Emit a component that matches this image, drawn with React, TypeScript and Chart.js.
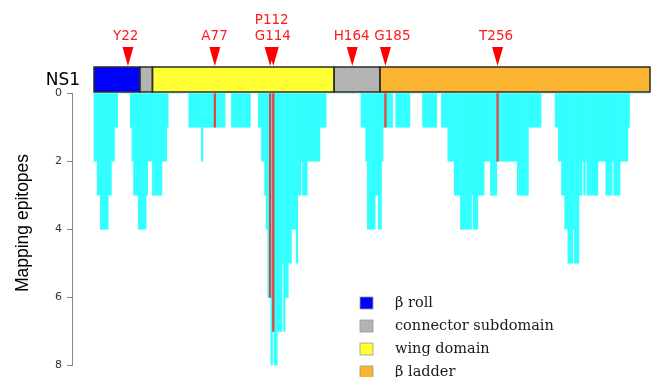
import React, { useEffect, useRef } from 'react';
import { Chart, registerables } from 'chart.js';

Chart.register(...registerables);

// Number of epitopes mapped on each NS1 residue (residues 1..352)
const epitopeDepth: number[] = [
  2, 2, 3, 3, 4, 4, 4, 4, 4, 3,
  3, 2, 2, 1, 1, 0, 0, 0, 0, 0,
  0, 0, 0, 1, 2, 3, 3, 3, 4, 4,
  4, 4, 4, 3, 2, 2, 2, 3, 3, 3,
  3, 3, 3, 2, 2, 2, 1, 0, 0, 0,
  0, 0, 0, 0, 0, 0, 0, 0, 0, 0,
  1, 1, 1, 1, 1, 1, 1, 1, 2, 1,
  1, 1, 1, 1, 1, 1, 1, 1, 1, 1,
  1, 1, 1, 0, 0, 0, 0, 1, 1, 1,
  1, 1, 1, 1, 1, 1, 1, 1, 1, 0,
  0, 0, 0, 0, 1, 1, 2, 2, 3, 4,
  6, 6, 8, 7, 8, 8, 7, 7, 7, 5,
  7, 6, 6, 5, 5, 4, 4, 4, 5, 3,
  3, 2, 3, 3, 3, 2, 2, 2, 2, 2,
  2, 2, 2, 1, 1, 1, 1, 0, 0, 0,
  0, 0, 0, 0, 0, 0, 0, 0, 0, 0,
  0, 0, 0, 0, 0, 0, 0, 0, 0, 1,
  1, 1, 2, 4, 4, 4, 4, 4, 3, 3,
  4, 4, 2, 1, 1, 1, 1, 1, 1, 0,
  0, 1, 1, 1, 1, 1, 1, 1, 1, 1,
  0, 0, 0, 0, 0, 0, 0, 0, 1, 1,
  1, 1, 1, 1, 1, 1, 1, 0, 0, 0,
  1, 1, 1, 1, 2, 2, 2, 2, 3, 3,
  3, 3, 4, 4, 4, 4, 4, 4, 4, 3,
  4, 4, 4, 3, 3, 3, 3, 2, 2, 2,
  2, 3, 3, 3, 3, 2, 2, 2, 2, 2,
  2, 2, 2, 2, 2, 2, 2, 2, 3, 3,
  3, 3, 3, 3, 3, 1, 1, 1, 1, 1,
  1, 1, 1, 0, 0, 0, 0, 0, 0, 0,
  0, 0, 1, 1, 2, 2, 3, 3, 4, 4,
  5, 5, 5, 4, 5, 5, 5, 3, 3, 2,
  3, 2, 3, 3, 3, 3, 3, 3, 3, 2,
  2, 2, 2, 2, 3, 3, 3, 3, 2, 3,
  3, 3, 3, 2, 2, 2, 2, 2, 1, 0,
  0, 0, 0, 0, 0, 0, 0, 0, 0, 0,
  0, 0,
];

// Highlighted residues
const markerLabels = ['Y22', 'A77', 'P112', 'G114', 'H164', 'G185', 'T256'];
const markerResidues = [22, 77, 112, 114, 164, 185, 256];

// NS1 domains
const domainNames = ['β roll', 'connector subdomain', 'wing domain', 'connector subdomain', 'β ladder'];
const domainStarts = [1, 30, 38, 153, 182];
const domainEnds = [29, 37, 152, 181, 352];

// Legend entries
const legendLabels = ['β roll', 'connector subdomain', 'wing domain', 'β ladder'];

const yTicks = [0, 2, 4, 6, 8];

// ---- styles (not data) ----
const COLOR_BAR = '#33ffff';
const COLOR_MARK_LINE = '#e8423c';
const COLOR_RED = '#ff0000';
const domainColors = ['#0000ff', '#b3b3b3', '#ffff33', '#b3b3b3', '#fbb42f'];
const legendColors = ['#0000ff', '#b3b3b3', '#ffff33', '#fbb42f'];
const labelRow = [0, 0, 1, 0, 0, 0, 0];
const labelNudge = [-2.3, -0.3, 1.6, -0.5, -0.6, 7, -1.5];

const residues = epitopeDepth.map((_, i) => i + 1);

const overlayPlugin = {
  id: 'ns1Overlay',
  afterDraw(chart: any) {
    const { ctx, chartArea } = chart;
    const x = chart.scales.x;
    const top = chartArea.top;
    ctx.save();

    // domain bar
    const barTop = top - 26;
    const barH = 25;
    domainStarts.forEach((s, i) => {
      const x0 = x.getPixelForValue(s - 0.5);
      const x1 = x.getPixelForValue(domainEnds[i] + 0.5);
      ctx.fillStyle = domainColors[i];
      ctx.fillRect(x0, barTop, x1 - x0, barH);
    });
    ctx.strokeStyle = '#2b2b2b';
    ctx.lineWidth = 1.5;
    domainStarts.forEach((s, i) => {
      const x0 = x.getPixelForValue(s - 0.5);
      const x1 = x.getPixelForValue(domainEnds[i] + 0.5);
      ctx.strokeRect(x0, barTop, x1 - x0, barH);
    });

    // NS1 label
    ctx.fillStyle = '#000';
    ctx.font = '17px "DejaVu Sans"';
    ctx.textAlign = 'right';
    ctx.textBaseline = 'middle';
    ctx.fillText('NS1', 80, barTop + barH / 2 + 1);

    // triangles
    ctx.fillStyle = COLOR_RED;
    markerResidues.forEach((r) => {
      const px = x.getPixelForValue(r);
      ctx.beginPath();
      ctx.moveTo(px - 5.5, top - 46);
      ctx.lineTo(px + 5.5, top - 46);
      ctx.lineTo(px, top - 27);
      ctx.closePath();
      ctx.fill();
    });

    // marker labels
    ctx.font = '13.5px "DejaVu Sans"';
    ctx.textAlign = 'center';
    ctx.textBaseline = 'alphabetic';
    ctx.fillStyle = '#ff1a1a';
    markerLabels.forEach((lab, i) => {
      const px = x.getPixelForValue(markerResidues[i]) + labelNudge[i];
      const py = labelRow[i] === 0 ? top - 53 : top - 69.5;
      ctx.fillText(lab, px, py);
    });

    // legend
    ctx.font = '14.5px "DejaVu Serif"';
    ctx.textAlign = 'left';
    ctx.textBaseline = 'middle';
    legendLabels.forEach((lab, i) => {
      const ly = 297 + i * 23;
      ctx.fillStyle = legendColors[i];
      ctx.fillRect(360, ly, 13, 12);
      ctx.strokeStyle = '#9a9a9a';
      ctx.lineWidth = 0.8;
      ctx.strokeRect(360, ly, 13, 12);
      ctx.fillStyle = '#1a1a1a';
      ctx.fillText(lab, 395, ly + 6.5);
    });

    // y axis title
    ctx.save();
    ctx.translate(28, 223);
    ctx.rotate(-Math.PI / 2);
    ctx.font = '17.5px "Liberation Sans"';
    ctx.textAlign = 'center';
    ctx.textBaseline = 'alphabetic';
    ctx.fillStyle = '#000';
    ctx.fillText('Mapping epitopes', 0, 0);
    ctx.restore();

    ctx.restore();
  },
};

export default function App() {
  const ref = useRef<HTMLCanvasElement | null>(null);

  useEffect(() => {
    if (!ref.current) return;
    const depthAt = (r: number) => epitopeDepth[r - 1] ?? 0;
    const chart = new Chart(ref.current, {
      type: 'bar',
      data: {
        datasets: [
          {
            label: 'Mapping epitopes',
            data: residues.map((r, i) => ({ x: r, y: epitopeDepth[i] })),
            backgroundColor: COLOR_BAR,
            borderWidth: 0,
            barPercentage: 1,
            categoryPercentage: 1,
            grouped: false,
            order: 2,
          } as any,
          {
            label: 'Highlighted residues',
            data: markerResidues.map((r) => ({ x: r, y: depthAt(r) })),
            backgroundColor: COLOR_MARK_LINE,
            borderWidth: 0,
            barPercentage: 1,
            categoryPercentage: 1,
            grouped: false,
            order: 1,
          } as any,
        ],
      },
      options: {
        animation: false,
        responsive: false,
        maintainAspectRatio: false,
        layout: { padding: { top: 93, right: 5, bottom: 5, left: 0 } },
        plugins: {
          legend: { display: false },
          tooltip: { enabled: false },
          title: { display: false },
        },
        scales: {
          x: {
            type: 'linear',
            min: -13.43,
            max: 352.5,
            offset: false,
            grace: 0,
            display: false,
          },
          y: {
            reverse: true,
            min: 0,
            max: 8,
            afterFit: (s: any) => {
              s.width = 72;
            },
            afterBuildTicks: (s: any) => {
              s.ticks = yTicks.map((v) => ({ value: v }));
            },
            border: { display: true, color: '#8a8a8a', width: 1 },
            grid: {
              display: true,
              drawOnChartArea: false,
              drawTicks: true,
              tickLength: 5,
              color: '#8a8a8a',
            },
            ticks: {
              padding: 5,
              color: '#333',
              font: { family: 'DejaVu Sans', size: 11 },
            },
          },
        },
      },
      plugins: [overlayPlugin],
    });
    return () => chart.destroy();
  }, []);

  return (
    <div style={{ position: 'fixed', left: 0, top: 0, width: 655, height: 377, background: '#fff' }}>
      <canvas ref={ref} width={655} height={377} />
    </div>
  );
}
